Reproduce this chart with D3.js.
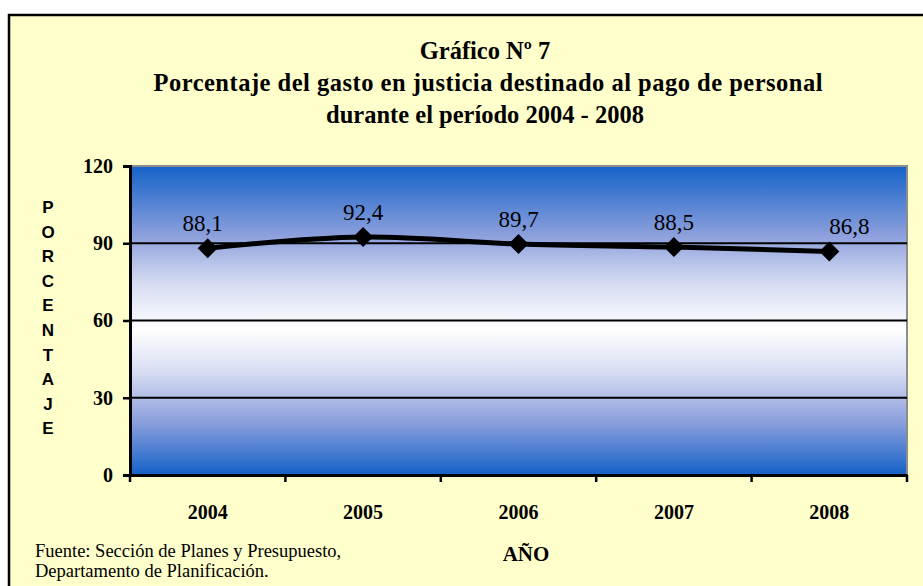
<!DOCTYPE html>
<html>
<head>
<meta charset="utf-8">
<script src="https://cdn.jsdelivr.net/npm/d3@7"></script>
<style>
  body { margin: 0; background: #fff; }
  svg { display: block; }
</style>
</head>
<body>
<div id="chart"></div>
<script>
// Chart data
const years = ["2004", "2005", "2006", "2007", "2008"];
const percentages = [88.1, 92.4, 89.7, 88.5, 86.8];
const yTicks = [0, 30, 60, 90, 120];
const titleLines = [
  "Gráfico Nº 7",
  "Porcentaje del gasto en justicia destinado al pago de personal",
  "durante el período 2004 - 2008"
];
const yTitle = "PORCENTAJE";
const xTitle = "AÑO";
const sourceLines = ["Fuente: Sección de Planes y Presupuesto,", "Departamento de Planificación."];

const W = 923, H = 586;
const plot = { left: 130, right: 907, top: 166, bottom: 475 };
const serif = "'Liberation Serif', 'Times New Roman', serif";

const svg = d3.select("#chart").append("svg")
  .attr("width", W)
  .attr("height", H);

// outer frame (runs off the right and bottom edge)
svg.append("rect")
  .attr("x", 9).attr("y", 15)
  .attr("width", W).attr("height", H)
  .attr("fill", "#ffffcc")
  .attr("stroke", "#000")
  .attr("stroke-width", 2.5);

// gradient for plot area: blue - white - blue
const defs = svg.append("defs");
const grad = defs.append("linearGradient")
  .attr("id", "plotGrad")
  .attr("x1", 0).attr("y1", 0).attr("x2", 0).attr("y2", 1);
[["0%", "#1462c8"], ["22%", "#8a9edc"], ["38%", "#d6dcf2"], ["53%", "#ffffff"],
 ["67%", "#d6dcf2"], ["83%", "#8a9edc"], ["100%", "#1462c8"]].forEach(s => {
  grad.append("stop").attr("offset", s[0]).attr("stop-color", s[1]);
});

const x = d3.scaleBand().domain(years).range([plot.left, plot.right]);
const y = d3.scaleLinear().domain([0, 120]).range([plot.bottom, plot.top]);

svg.append("rect")
  .attr("x", plot.left).attr("y", plot.top)
  .attr("width", plot.right - plot.left)
  .attr("height", plot.bottom - plot.top)
  .attr("fill", "url(#plotGrad)");

// gray border top & right
svg.append("path")
  .attr("d", `M${plot.left},${plot.top}H${plot.right}V${plot.bottom}`)
  .attr("fill", "none")
  .attr("stroke", "#8c8c8c")
  .attr("stroke-width", 2);

// grid lines
svg.append("g")
  .selectAll("line")
  .data(yTicks.filter(t => t > 0 && t < 120))
  .enter()
  .append("line")
  .attr("x1", plot.left).attr("x2", plot.right)
  .attr("y1", d => y(d)).attr("y2", d => y(d))
  .attr("stroke", "#000")
  .attr("stroke-width", 2);

// y axis
const yAxis = svg.append("g")
  .attr("transform", `translate(${plot.left},0)`)
  .call(d3.axisLeft(y).tickValues(yTicks).tickSize(7).tickPadding(10));
yAxis.select(".domain").attr("stroke-width", 3);
yAxis.selectAll(".tick line").attr("stroke-width", 2.5);
yAxis.selectAll("text")
  .attr("font-family", serif)
  .attr("font-weight", "bold")
  .attr("font-size", 20)
  .attr("fill", "#000");

// x axis, ticks on category boundaries
const xAxis = svg.append("g")
  .attr("transform", `translate(0,${plot.bottom})`)
  .call(d3.axisBottom(x).tickSize(0).tickPadding(30));
xAxis.select(".domain").attr("stroke-width", 3);
xAxis.selectAll("text")
  .attr("font-family", serif)
  .attr("font-weight", "bold")
  .attr("font-size", 20)
  .attr("fill", "#000");
xAxis.selectAll(".boundary")
  .data(years.map(yr => x(yr)).concat([plot.right]))
  .enter()
  .append("line")
  .attr("x1", d => d).attr("x2", d => d)
  .attr("y1", 0).attr("y2", 7)
  .attr("stroke", "#000")
  .attr("stroke-width", 2.5);

// data line
const pts = years.map((yr, i) => [x(yr) + x.bandwidth() / 2, y(percentages[i])]);
svg.append("path")
  .datum(pts)
  .attr("d", d3.line().curve(d3.curveCatmullRom.alpha(0)))
  .attr("fill", "none")
  .attr("stroke", "#000")
  .attr("stroke-width", 5);

// diamond markers
svg.append("g")
  .selectAll("path")
  .data(pts)
  .enter()
  .append("path")
  .attr("d", d => `M${d[0]},${d[1] - 10}L${d[0] + 10},${d[1]}L${d[0]},${d[1] + 10}L${d[0] - 10},${d[1]}Z`)
  .attr("fill", "#000");

// value labels
svg.append("g")
  .selectAll("text")
  .data(percentages)
  .enter()
  .append("text")
  .attr("x", (d, i) => pts[i][0])
  .attr("y", (d, i) => pts[i][1] - 17)
  .attr("dx", (d, i) => i === 0 ? -5 : (i === percentages.length - 1 ? 20 : 0))
  .attr("text-anchor", "middle")
  .attr("font-family", serif)
  .attr("font-size", 23)
  .text(d => String(d).replace(".", ","));

// title
svg.append("g")
  .selectAll("text")
  .data(titleLines)
  .enter()
  .append("text")
  .attr("x", (d, i) => i === 1 ? 488 : 485)
  .attr("y", (d, i) => 59 + i * 32)
  .attr("text-anchor", "middle")
  .attr("font-family", serif)
  .attr("font-weight", "bold")
  .attr("font-size", 24.5)
  .each(function (d, i) {
    // the middle line is set a little wider in the original
    if (i === 1) d3.select(this).attr("textLength", 669).attr("lengthAdjust", "spacing");
  })
  .text(d => d);

// vertical y title, letter by letter
svg.append("g")
  .selectAll("text")
  .data(yTitle.split(""))
  .enter()
  .append("text")
  .attr("x", 48)
  .attr("y", (d, i) => 213 + i * 24.6)
  .attr("text-anchor", "middle")
  .attr("font-family", "'Liberation Sans', Arial, sans-serif")
  .attr("font-weight", "bold")
  .attr("font-size", 17)
  .text(d => d);

// x title
svg.append("text")
  .attr("x", 526)
  .attr("y", 561)
  .attr("text-anchor", "middle")
  .attr("font-family", serif)
  .attr("font-weight", "bold")
  .attr("font-size", 21)
  .text(xTitle);

// source note
svg.append("g")
  .selectAll("text")
  .data(sourceLines)
  .enter()
  .append("text")
  .attr("x", 35)
  .attr("y", (d, i) => 557 + i * 20)
  .attr("font-family", serif)
  .attr("font-size", 18.5)
  .text(d => d);
</script>
</body>
</html>
